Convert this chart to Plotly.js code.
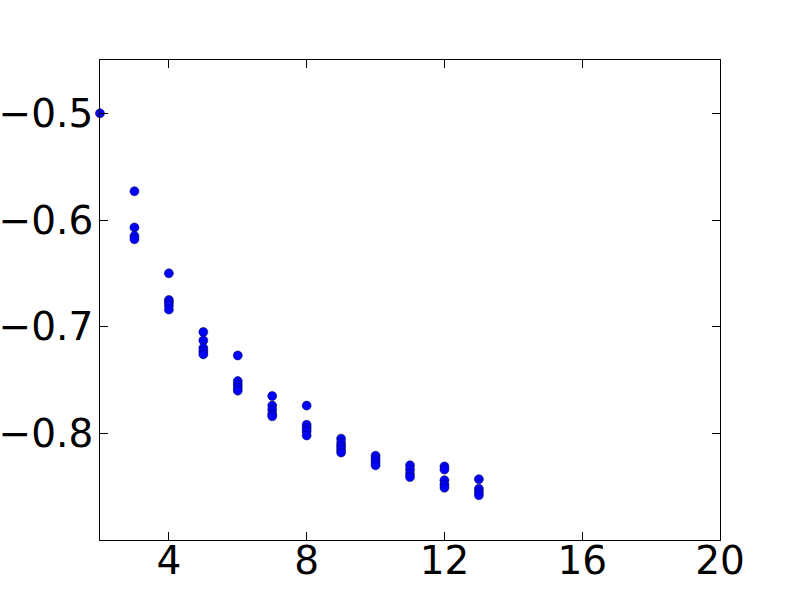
<!DOCTYPE html>
<html>
<head>
<meta charset="utf-8">
<script src="https://cdn.plot.ly/plotly-3.0.1.min.js"></script>
<style>
  body { margin: 0; background: #fff; }
  #chart { width: 800px; height: 600px; }
</style>
</head>
<body>
<div id="chart"></div>
<script>
// points, grouped by x
var xValues = [
  2,
  3, 3, 3, 3,
  4, 4, 4, 4, 4,
  5, 5, 5, 5, 5,
  6, 6, 6, 6, 6,
  7, 7, 7, 7, 7,
  8, 8, 8, 8, 8,
  9, 9, 9, 9, 9,
  10, 10, 10, 10,
  11, 11, 11, 11,
  12, 12, 12, 12, 12,
  13, 13, 13, 13
];
var yValues = [
  -0.500,
  -0.573, -0.607, -0.615, -0.618,
  -0.650, -0.675, -0.677, -0.680, -0.684,
  -0.705, -0.713, -0.720, -0.723, -0.726,
  -0.727, -0.751, -0.754, -0.757, -0.760,
  -0.765, -0.774, -0.778, -0.782, -0.784,
  -0.774, -0.792, -0.795, -0.798, -0.802,
  -0.805, -0.809, -0.812, -0.815, -0.818,
  -0.821, -0.824, -0.827, -0.830,
  -0.830, -0.834, -0.838, -0.841,
  -0.831, -0.834, -0.844, -0.848, -0.851,
  -0.843, -0.852, -0.855, -0.858
];
var xTicks = [4, 8, 12, 16, 20];
var yTicks = [-0.5, -0.6, -0.7, -0.8];

var trace = {
  type: 'scatter',
  mode: 'markers',
  x: xValues,
  y: yValues,
  marker: {
    color: '#0000ff',
    size: 9,
    line: { color: '#000033', width: 0.5 }
  },
  cliponaxis: false,
  showlegend: false
};

var axisStyle = {
  showline: true,
  linecolor: '#000',
  linewidth: 1,
  mirror: 'allticks',
  ticks: 'inside',
  ticklen: 8,
  tickwidth: 1,
  tickcolor: '#000',
  showgrid: false,
  zeroline: false,
  tickfont: { family: 'DejaVu Sans', size: 39, color: '#000' }
};

var layout = {
  width: 800,
  height: 600,
  margin: { l: 100, r: 80, t: 60, b: 60 },
  paper_bgcolor: '#fff',
  plot_bgcolor: '#fff',
  xaxis: Object.assign({}, axisStyle, {
    range: [2, 20],
    tickmode: 'array',
    tickvals: xTicks,
    ticklabelstandoff: -14
  }),
  yaxis: Object.assign({}, axisStyle, {
    range: [-0.9, -0.45],
    tickmode: 'array',
    tickvals: yTicks,
    tickformat: '.1f',
    ticklabelstandoff: -2
  })
};

Plotly.newPlot('chart', [trace], layout, { displayModeBar: false, staticPlot: true });
</script>
</body>
</html>
